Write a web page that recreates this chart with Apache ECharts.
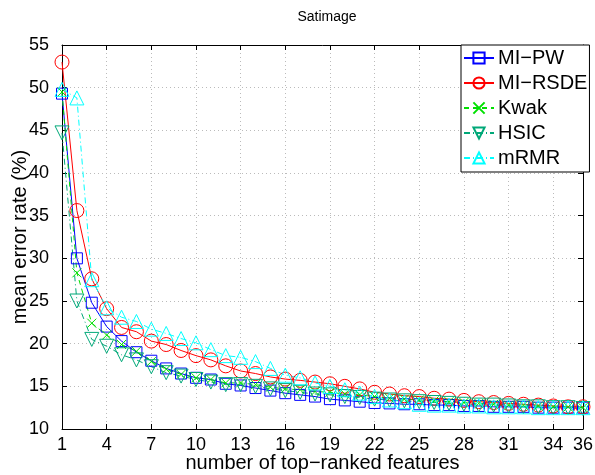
<!DOCTYPE html>
<html><head><meta charset="utf-8">
<script src="https://cdn.jsdelivr.net/npm/echarts@6/dist/echarts.min.js"></script>
<style>html,body{margin:0;padding:0;background:#fff}#c{width:595px;height:475px}</style>
</head><body><div id="c"></div>
<script>
const features = [1,2,3,4,5,6,7,8,9,10,11,12,13,14,15,16,17,18,19,20,21,22,23,24,25,26,27,28,29,30,31,32,33,34,35,36];
const miPW   = [49.3,30.0,24.8,22.0,20.3,19.0,18.0,17.1,16.5,16.0,15.8,15.3,15.1,14.8,14.5,14.2,14.0,13.8,13.5,13.35,13.2,13.05,13.0,12.9,12.9,12.8,12.8,12.7,12.7,12.6,12.6,12.6,12.5,12.5,12.5,12.5];
const miRSDE = [53.0,35.6,27.6,24.1,21.9,21.4,20.3,19.9,19.2,18.6,18.1,17.4,16.8,16.5,16.1,15.85,15.7,15.5,15.3,15.0,14.7,14.3,14.1,13.9,13.8,13.6,13.5,13.35,13.2,13.1,13.0,12.9,12.8,12.7,12.6,12.6];
const kwak   = [49.5,28.3,22.4,21.0,19.9,19.1,17.9,17.0,16.4,16.0,15.8,15.4,15.4,15.2,14.9,14.7,14.6,14.4,14.3,14.1,14.0,13.8,13.6,13.5,13.4,13.3,13.2,13.1,13.0,12.9,12.8,12.8,12.7,12.6,12.6,12.5];
const hsic   = [44.7,25.0,20.5,19.7,18.7,18.1,17.3,16.6,16.2,15.8,15.5,15.2,15.2,15.0,14.7,14.5,14.3,14.1,14.0,13.8,13.7,13.5,13.4,13.3,13.2,13.1,13.0,12.9,12.8,12.8,12.7,12.6,12.6,12.5,12.5,12.4];
const mRMR   = [49.8,48.8,27.5,24.2,23.1,22.6,21.7,21.2,20.6,20.1,19.3,18.6,18.4,17.9,17.1,16.3,16.0,15.4,15.0,14.6,14.2,13.8,13.4,13.2,12.9,12.8,12.8,12.7,12.7,12.6,12.6,12.6,12.5,12.5,12.5,12.5];
const xTicks = [1,4,7,10,13,16,19,22,25,28,31,34,36];
const yTicks = [10,15,20,25,30,35,40,45,50,55];

const FONT = 'Liberation Sans';
const pair = arr => features.map((x,i)=>[x,arr[i]]);
const tickStyle = {show:true, inside:true, length:5, lineStyle:{color:'#000', width:1}};
function mk(name, data, color, symbol, size, type, rotate){
  return {
    name, type:'line', data:pair(data), symbol, symbolSize:size, symbolRotate:rotate||0,
    showAllSymbol:true, z: 3,
    lineStyle:{color, width:1, type},
    itemStyle:{color:'rgba(0,0,0,0)', borderColor:color, borderWidth:1},
    emphasis:{disabled:true}, animation:false
  };
}
const chart = echarts.init(document.getElementById('c'), null, {renderer:'canvas'});
chart.setOption({
  animation:false,
  backgroundColor:'#fff',
  title:{text:'Satimage', left:322, top:5, textAlign:'center',
    textStyle:{fontFamily:FONT, fontSize:14, fontWeight:'normal', color:'#000'}},
  grid:{left:62, right:12, top:45, bottom:46, containLabel:false, outerBoundsMode:'none'},
  legend:{
    orient:'vertical', left:461, top:45, width:124,
    backgroundColor:'#fff', borderColor:'#000', borderWidth:1,
    padding:[3,2,4,2], itemGap:5, itemWidth:30, itemHeight:14,
    textStyle:{fontFamily:FONT, fontSize:20, color:'#000', lineHeight:20, padding:[0,0,0,-1]},
    data:['MI−PW','MI−RSDE','Kwak','HSIC','mRMR']
  },
  xAxis:[{
    type:'value', min:1, max:36, position:'bottom',
    name:'number of top−ranked features', nameLocation:'middle', nameGap:24, nameMoveOverlap:false,
    nameTextStyle:{fontFamily:FONT, fontSize:20, color:'#000', verticalAlign:'top'},
    axisLine:{show:true, onZero:false, lineStyle:{color:'#000', width:1}},
    axisTick:Object.assign({customValues:xTicks}, tickStyle),
    axisLabel:{customValues:xTicks, fontFamily:FONT, fontSize:18, color:'#000', margin:7},
    splitLine:{show:true, lineStyle:{color:'#bbb', type:[1,3], width:1}}
  },{
    type:'value', min:1, max:36, position:'top',
    axisLine:{show:true, onZero:false, lineStyle:{color:'#000', width:1}},
    axisTick:Object.assign({customValues:xTicks}, tickStyle),
    axisLabel:{show:false}, splitLine:{show:false}
  }],
  yAxis:[{
    type:'value', min:10, max:55, interval:5, position:'left',
    name:'mean error rate (%)', nameLocation:'middle', nameGap:32, nameMoveOverlap:false,
    nameTextStyle:{fontFamily:FONT, fontSize:20, color:'#000'},
    axisLine:{show:true, onZero:false, lineStyle:{color:'#000', width:1}},
    axisTick:tickStyle,
    axisLabel:{fontFamily:FONT, fontSize:18, color:'#000', margin:13},
    splitLine:{show:true, lineStyle:{color:'#bbb', type:[1,3], width:1}}
  },{
    type:'value', min:10, max:55, interval:5, position:'right',
    axisLine:{show:true, onZero:false, lineStyle:{color:'#000', width:1}},
    axisTick:tickStyle, axisLabel:{show:false}, splitLine:{show:false}
  }],
  series:[
    mk('MI−PW', miPW, '#0000ff', 'rect', 11, 'solid'),
    mk('MI−RSDE', miRSDE, '#ff0000', 'circle', 14, 'solid'),
    mk('Kwak', kwak, '#00e000', 'path://M0,0L10,10M10,0L0,10', 9, [5,4]),
    mk('HSIC', hsic, '#00a878', 'triangle', 14, [6,3,1,3], 180),
    mk('mRMR', mRMR, '#00ffff', 'triangle', 14, [6,3,1,3])
  ]
});
</script></body></html>
